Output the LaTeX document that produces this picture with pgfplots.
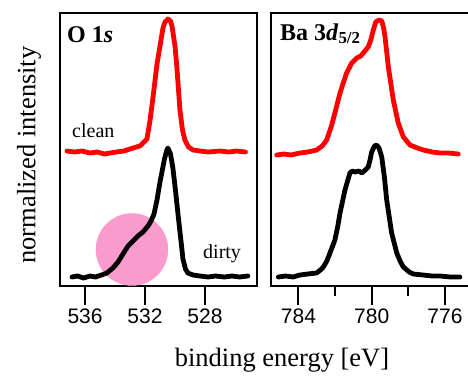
\documentclass[border=0pt]{standalone}
\usepackage{pgfplots}
\pgfplotsset{compat=1.18}
\usepackage{fontspec}
\setmainfont{Liberation Serif}
\newfontfamily\tickfont{Liberation Sans}
\definecolor{cred}{RGB}{255,0,0}
\definecolor{cpink}{RGB}{250,155,205}
\begin{document}
\begin{tikzpicture}
\useasboundingbox (0,0) rectangle (468pt,376pt);
\pgfplotsset{
  panel/.style={
    scale only axis, anchor=south west, height=273pt,
    ymin=0, ymax=273, ytick=\empty, x dir=reverse,
    axis line style={line width=2pt},
    tick style={line width=2pt, black},
    tick align=outside, major tick length=19pt, minor tick length=10pt,
    xtick pos=bottom, clip marker paths=true,
    xticklabel style={font=\fontsize{21}{21}\selectfont\tickfont, anchor=north},
    /pgf/number format/assume math mode=true,
    /pgf/number format/1000 sep={},
  },
  spec/.style={line width=4.8pt, line join=round, line cap=round},
}
% ---------------- O 1s ----------------
\begin{axis}[panel, at={(60pt,90pt)}, width=197pt,
  xmin=524.53, xmax=537.67, xtick={536,532,528}]
\addplot[only marks, mark=*, mark size=36pt, color=cpink, draw=none] coordinates {(532.87,36.5)};
\addplot[spec, cred] coordinates {
(537.20,135) (536.7,134) (536.2,135) (535.67,133) (535.2,134) (534.7,132) (534.34,133)
(533.9,134) (533.4,135) (532.80,138) (532.34,140) (531.87,147) (531.67,165) (531.47,188)
(531.20,222) (531.00,240) (530.80,258) (530.67,264) (530.47,267) (530.30,265) (530.20,260)
(530.00,240) (529.87,218) (529.67,176) (529.50,156) (529.34,146) (529.10,139) (528.80,136)
(528.3,135) (527.8,134) (527.00,135) (526.4,134) (525.9,135) (525.3,134)};
\addplot[spec, black] coordinates {
(536.87,9) (536.5,10) (536.1,8) (535.67,10) (535.3,9) (534.9,11) (534.54,13)
(534.14,18) (533.80,24) (533.47,32) (533.13,40) (532.80,45) (532.47,50) (532.14,54)
(531.80,60) (531.60,65) (531.40,72) (531.20,86) (531.00,104) (530.87,114) (530.70,127)
(530.54,136) (530.47,138) (530.30,132) (530.14,118) (529.97,96) (529.80,72) (529.60,45)
(529.47,27) (529.30,17) (529.14,13) (528.8,11) (528.34,10) (527.8,9) (527.3,10) (526.7,9)
(526.2,10) (525.7,9) (525.14,10)};
\end{axis}
% ---------------- Ba 3d ----------------
\begin{axis}[panel, at={(271pt,90pt)}, width=199pt,
  xmin=774.63, xmax=785.5, xtick={784,780,776}, minor xtick={782,778}]
\addplot[spec, cred] coordinates {
(785.19,131) (784.8,132) (784.4,131) (783.92,133) (783.5,134) (783.01,136) (782.70,140)
(782.46,146) (782.20,160) (782.01,173) (781.73,193) (781.50,206) (781.37,213) (781.20,219)
(781.09,223) (780.82,228) (780.60,230) (780.46,233) (780.19,239) (780.05,246) (779.91,256)
(779.78,264) (779.60,266) (779.45,265) (779.35,258) (779.27,249) (779.09,219) (778.82,186)
(778.55,163) (778.27,149) (777.91,141) (777.50,138) (777.18,136) (776.7,134) (776.27,133)
(775.8,133) (775.27,132)};
\addplot[spec, black] coordinates {
(785.10,9) (784.7,10) (784.3,9) (783.92,11) (783.5,12) (783.01,13) (782.80,16)
(782.64,19) (782.45,25) (782.28,33) (782.01,46) (781.85,60) (781.73,73) (781.46,96)
(781.30,106) (781.19,113) (781.05,115) (780.91,114) (780.70,115) (780.55,113) (780.35,116)
(780.19,119) (780.08,127) (780.00,134) (779.85,140) (779.73,141) (779.60,138) (779.45,129)
(779.30,108) (779.18,86) (778.91,53) (778.63,33) (778.45,25) (778.27,19) (777.95,14)
(777.73,12) (777.2,11) (776.7,10) (776.27,10) (775.7,9) (775.18,9)};
\end{axis}
% ---------------- texts ----------------
\node[anchor=base west, inner sep=0pt, font=\fontsize{24}{24}\selectfont\bfseries] at (67pt,334pt) {O 1\textit{s}};
\node[anchor=base west, inner sep=0pt, font=\fontsize{24}{24}\selectfont\bfseries] at (280pt,336pt) {Ba 3\textit{d}\textsubscript{5/2}};
\node[anchor=base west, inner sep=0pt, font=\fontsize{20}{20}\selectfont] at (72pt,239pt) {clean};
\node[anchor=base west, inner sep=0pt, font=\fontsize{20}{20}\selectfont] at (203pt,118pt) {dirty};
\node[anchor=center, rotate=90, inner sep=0pt, font=\fontsize{26.5}{26.5}\selectfont] at (29pt,221pt) {normalized intensity};
\node[anchor=base, inner sep=0pt, font=\fontsize{26.5}{26.5}\selectfont] at (282pt,10pt) {binding energy [eV]};
\end{tikzpicture}
\end{document}
